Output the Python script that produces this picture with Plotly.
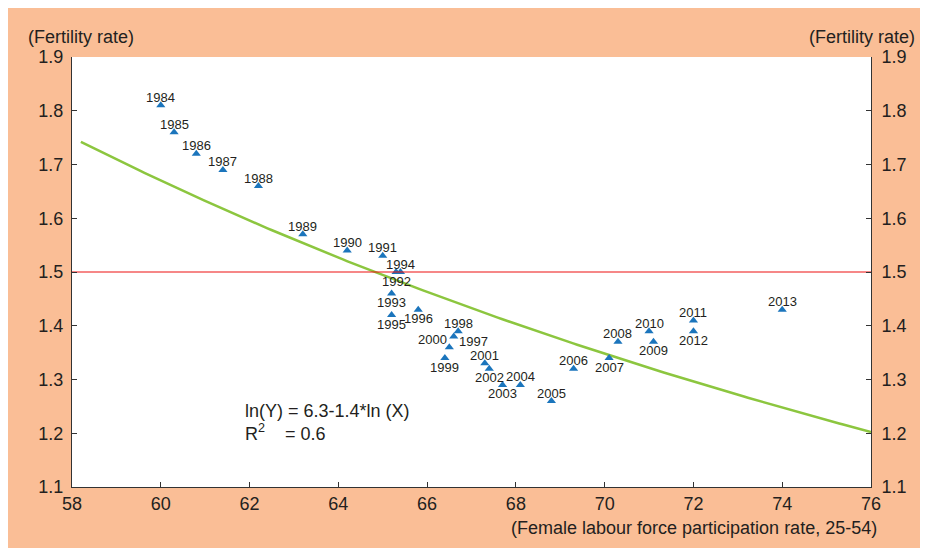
import numpy as np
import plotly.graph_objects as go

# ---- data ----
years = ["1984", "1985", "1986", "1987", "1988", "1989", "1990", "1991", "1992", "1994",
         "1993", "1995", "1996", "1997", "1998", "1999", "2000", "2001", "2002", "2003",
         "2004", "2005", "2006", "2007", "2008", "2009", "2010", "2011", "2012", "2013"]
participation = [60.0, 60.3, 60.8, 61.4, 62.2, 63.2, 64.2, 65.0, 65.3, 65.4,
                 65.2, 65.2, 65.8, 66.5, 66.7, 66.4, 66.6, 67.3, 67.4, 67.7,
                 68.1, 68.8, 69.3, 70.1, 70.3, 71.1, 71.0, 72.0, 72.0, 74.0]
fertility = [1.81, 1.76, 1.72, 1.69, 1.66, 1.57, 1.54, 1.53, 1.50, 1.50,
             1.46, 1.42, 1.43, 1.36, 1.39, 1.34, 1.38, 1.33, 1.32, 1.29,
             1.29, 1.26, 1.32, 1.34, 1.37, 1.37, 1.39, 1.41, 1.39, 1.43]
label_side = ["top", "top", "top", "top", "top", "top", "top", "top", "bottom", "top",
              "bottom", "bottom", "bottom", "right", "top", "bottom", "left", "top", "bottom", "bottom",
              "top", "top", "top", "bottom", "top", "bottom", "top", "top", "bottom", "top"]

# fitted curve ln(Y) = a + b ln(X) (coefficients)
fit_a = 6.204
fit_b = -1.39
fit_x_range = [58.2, 76.0]
threshold = 1.5

x_ticks = [58, 60, 62, 64, 66, 68, 70, 72, 74, 76]
y_ticks = [1.1, 1.2, 1.3, 1.4, 1.5, 1.6, 1.7, 1.8, 1.9]

# ---- layout geometry (screen pixels; page body has an 8px margin) ----
OFF = 8
W, H = 928 - OFF, 548 - OFF
L, R, T, B = 72 - OFF, 871 - OFF, 57 - OFF, 487 - OFF


def px(xs):
    return (xs - OFF - L) / (R - L)


def py(ys):
    return (B - (ys - OFF)) / (B - T)


ORANGE = "#FABE96"
TEXT = "#231F20"
FONT = "Liberation Sans, Arial, Helvetica, sans-serif"
FS = 18

fig = go.Figure()

fx = np.linspace(fit_x_range[0], fit_x_range[1], 200)
fy = np.exp(fit_a + fit_b * np.log(fx))
fig.add_trace(go.Scatter(x=fx, y=fy, mode="lines",
                         line=dict(color="#8CC63F", width=2.5), hoverinfo="skip"))

fig.add_trace(go.Scatter(x=[x_ticks[0], x_ticks[-1]], y=[threshold, threshold], mode="lines",
                         line=dict(color="#EE1111", width=1.2), yaxis="y2", hoverinfo="skip"))

fig.add_trace(go.Scatter(x=participation, y=fertility, mode="markers",
                         marker=dict(symbol="triangle-up", size=8, color="#1B75BC"),
                         text=years, hoverinfo="text"))

offsets = {
    "top": dict(xanchor="center", yanchor="middle", xshift=0, yshift=8),
    "bottom": dict(xanchor="center", yanchor="middle", xshift=0, yshift=-9),
    "left": dict(xanchor="right", yanchor="middle", xshift=-5, yshift=-3),
    "right": dict(xanchor="left", yanchor="middle", xshift=8, yshift=6),
}
for yr, xv, yv, side in zip(years, participation, fertility, label_side):
    fig.add_annotation(x=xv, y=yv, text=yr, showarrow=False,
                       font=dict(size=13, color=TEXT, family=FONT), **offsets[side])

# equation
fig.add_annotation(x=61.85, y=1.241, text="ln(Y) = 6.3-1.4*ln (X)", showarrow=False,
                   xanchor="left", yanchor="middle", font=dict(size=FS, color=TEXT, family=FONT))
fig.add_annotation(x=61.85, y=1.202,
                   text="R<sup>2</sup>&nbsp;&nbsp;&nbsp;&nbsp;= 0.6", showarrow=False,
                   xanchor="left", yanchor="middle", font=dict(size=FS, color=TEXT, family=FONT))

# axis titles
fig.add_annotation(xref="paper", yref="paper", x=px(26), y=py(37), text="(Fertility rate)",
                   showarrow=False, xanchor="left", yanchor="middle",
                   font=dict(size=FS, color=TEXT, family=FONT))
fig.add_annotation(xref="paper", yref="paper", x=px(917), y=py(37), text="(Fertility rate)",
                   showarrow=False, xanchor="right", yanchor="middle",
                   font=dict(size=FS, color=TEXT, family=FONT))
fig.add_annotation(xref="paper", yref="paper", x=px(879), y=py(528),
                   text="(Female labour force participation rate, 25-54)",
                   showarrow=False, xanchor="right", yanchor="middle",
                   font=dict(size=FS, color=TEXT, family=FONT))

axis_common = dict(showline=True, linecolor="#333", linewidth=1, ticks="inside", ticklen=5,
                   tickcolor="#333", showgrid=False, zeroline=False,
                   tickfont=dict(size=FS, color=TEXT, family=FONT))

fig.update_layout(
    width=W, height=H,
    margin=dict(l=L, r=W - R, t=T, b=H - B),
    paper_bgcolor=ORANGE, plot_bgcolor="white",
    showlegend=False,
    xaxis=dict(range=[x_ticks[0], x_ticks[-1]], tickvals=x_ticks, **axis_common),
    yaxis=dict(range=[y_ticks[0], y_ticks[-1]], tickvals=y_ticks, tickformat=".1f",
               ticklabelstandoff=4, **axis_common),
    yaxis2=dict(range=[y_ticks[0], y_ticks[-1]], tickvals=y_ticks, tickformat=".1f",
                overlaying="y", side="right", ticklabelstandoff=6, **axis_common),
)

fig.write_html("out.html")
